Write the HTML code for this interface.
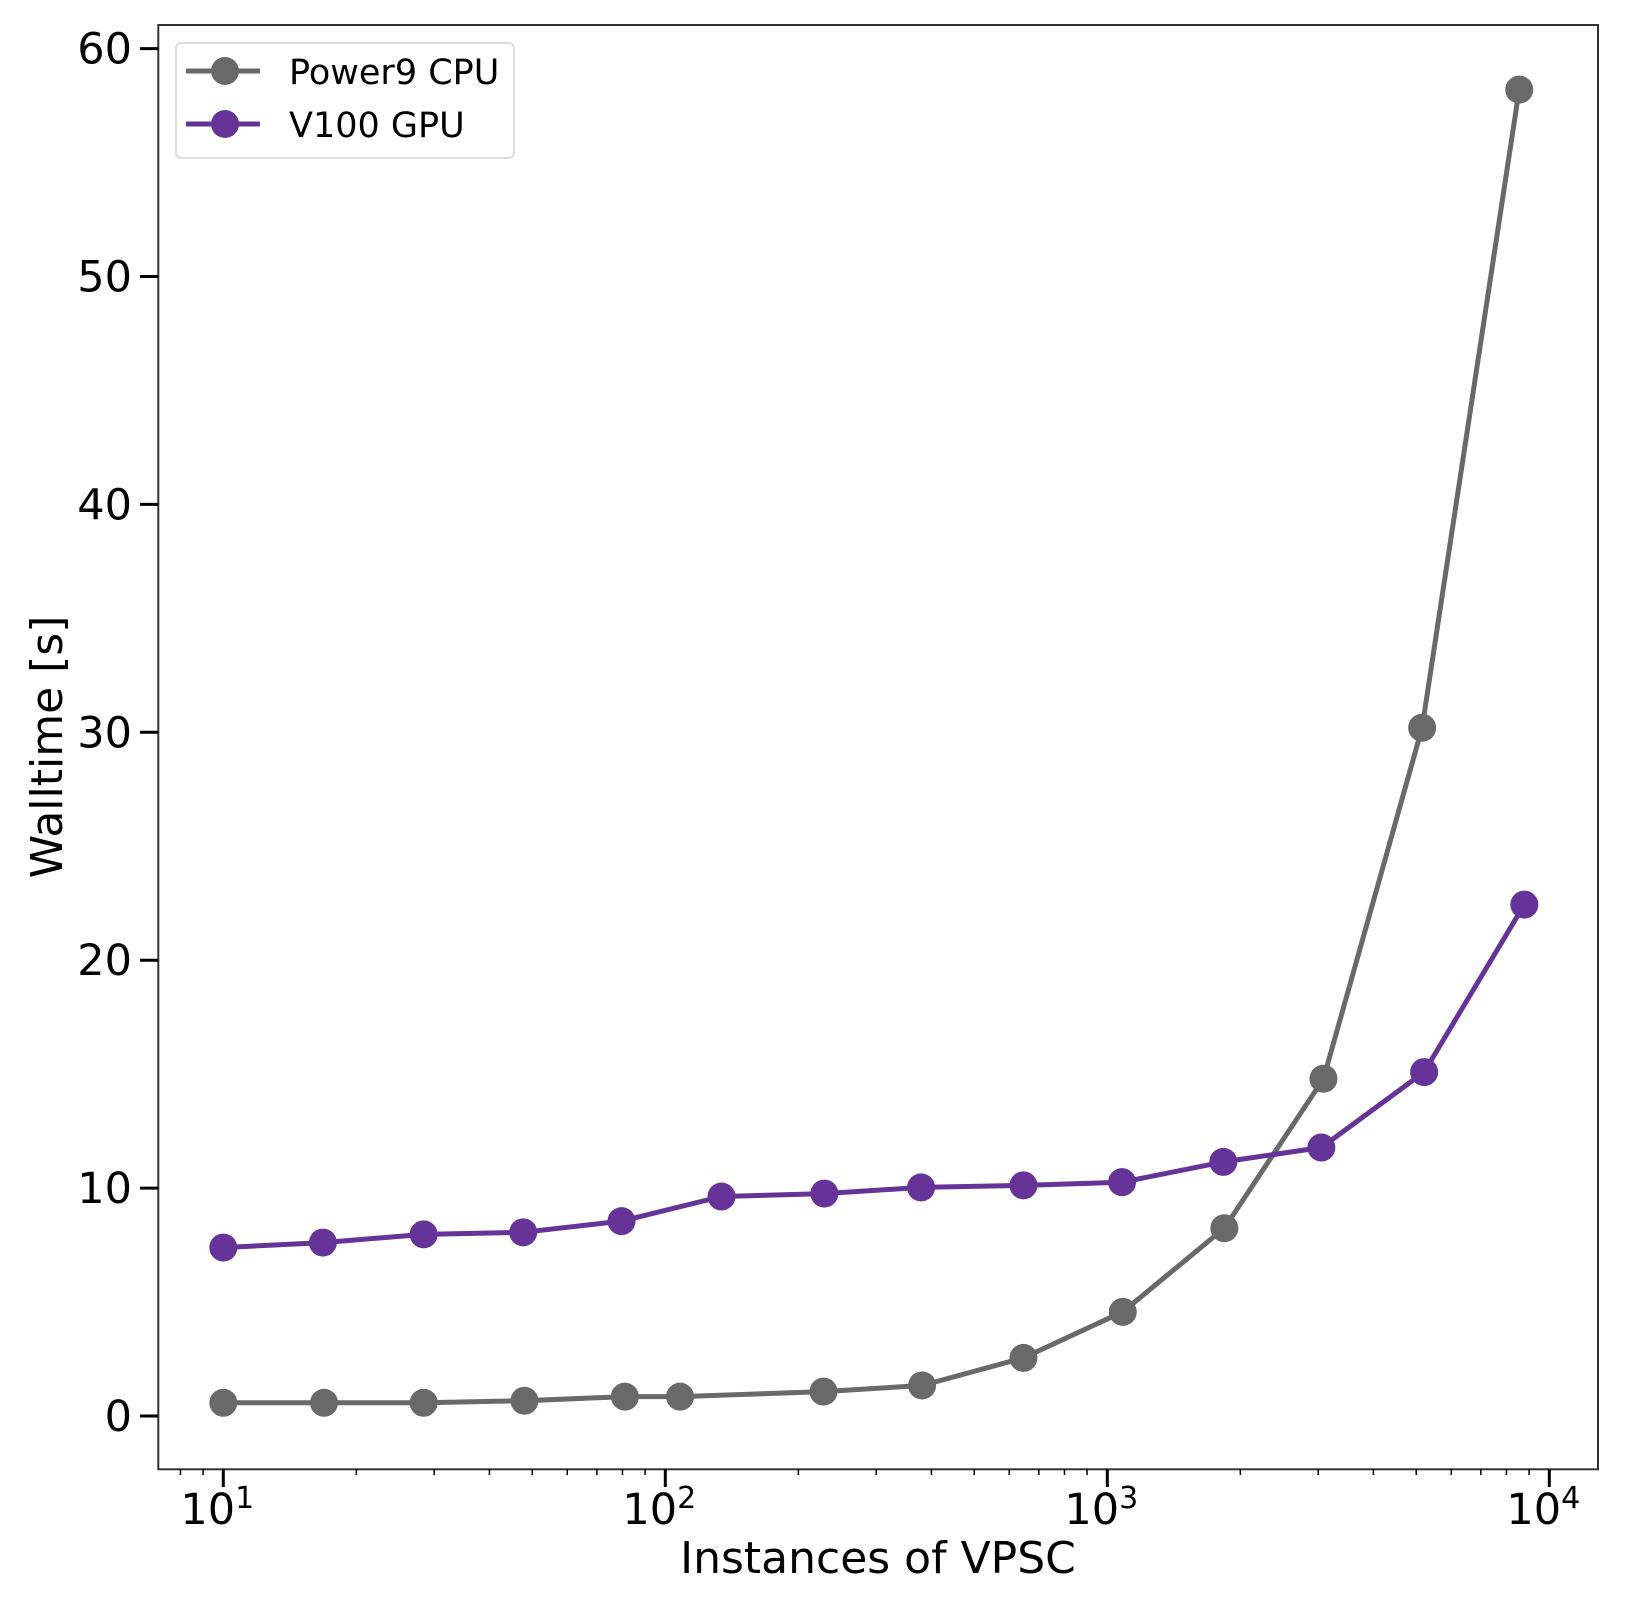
<!DOCTYPE html>
<html><head><meta charset="utf-8"><style>
html,body{margin:0;padding:0;background:#fff;}
svg{display:block;font-family:"DejaVu Sans","Liberation Sans",sans-serif;}
</style></head><body>
<svg id="chart" width="1625" height="1600" viewBox="0 0 1625 1600" xmlns="http://www.w3.org/2000/svg">
<rect x="0" y="0" width="1625" height="1600" fill="#fff"/>
<g id="grid"></g>
<g id="series"></g>
<rect x="158.3" y="25" width="1439.7" height="1444.3" fill="none" stroke="#333" stroke-width="2"/>
<g id="axes"></g>
<text x="878" y="1573" font-size="44" text-anchor="middle">Instances of VPSC</text>
<text transform="translate(62,747) rotate(-90)" font-size="44" text-anchor="middle">Walltime [s]</text>
<g>
<rect x="176" y="43" width="338" height="115" rx="5" fill="#fff" stroke="#ddd" stroke-width="2"/>
<g>
<line x1="186" y1="71" x2="260" y2="71" stroke="#696969" stroke-width="5"/>
<circle cx="225" cy="71" r="14" fill="#696969"/>
<text x="289" y="84" font-size="35">Power9 CPU</text>
</g>
<g>
<line x1="186" y1="124" x2="260" y2="124" stroke="#663399" stroke-width="5"/>
<circle cx="225" cy="124" r="14" fill="#663399"/>
<text x="289" y="137" font-size="35">V100 GPU</text>
</g>
</g>
</svg>
<script>
const cpuX = [10, 16.9, 28.4, 48, 81, 108, 228, 381, 646, 1084, 1840, 3084, 5156, 8550];
const cpuY = [0.58, 0.58, 0.58, 0.67, 0.85, 0.85, 1.07, 1.34, 2.55, 4.57, 8.24, 14.8, 30.2, 58.2];
const gpuX = [10, 16.8, 28.4, 47.7, 79.6, 134, 229, 379, 646, 1080, 1830, 3050, 5210, 8780];
const gpuY = [7.39, 7.61, 7.97, 8.06, 8.55, 9.63, 9.76, 10.03, 10.12, 10.26, 11.15, 11.78, 15.09, 22.44];
const yTicks = [0, 10, 20, 30, 40, 50, 60];
const xTickExps = [1, 2, 3, 4];

const NS = "http://www.w3.org/2000/svg";
function xs(v){ return 223.3 + (Math.log10(v) - 1) * 442; }
function ys(v){ return 1416 - v * 22.79; }
function mk(tag, attrs, parent){ const e = document.createElementNS(NS, tag); for (const k in attrs) e.setAttribute(k, attrs[k]); parent.appendChild(e); return e; }

const axes = document.getElementById('axes');
yTicks.forEach(t => {
  const y = ys(t);
  const l = mk('line', {x1:140, y1:y, x2:158.3, y2:y, stroke:'#000', 'stroke-width':3}, axes);
  
  
  const tx = mk('text', {x:132, y:y+15, 'font-size':43, 'text-anchor':'end'}, axes);
  tx.textContent = t;
  
  
});
for (let e = 0; e <= 4; e++) {
  for (let m = 2; m <= 9; m++) {
    const v = m * Math.pow(10, e);
    const x = xs(v);
    if (x < 158.3 || x > 1598) continue;
    const l = mk('line', {x1:x, y1:1469.3, x2:x, y2:1475, stroke:'#000', 'stroke-width':1.5}, axes);
    
    
  }
}
xTickExps.forEach(e => {
  const x = xs(Math.pow(10, e));
  const l = mk('line', {x1:x, y1:1469.3, x2:x, y2:1487, stroke:'#000', 'stroke-width':3}, axes);
  
  
  const tx = mk('text', {x:x-6, y:1524, 'font-size':43, 'text-anchor':'middle'}, axes);
  
  
  const base = mk('tspan', {}, tx); base.textContent = '10';
  const sup = mk('tspan', {dy:-16, 'font-size':30}, tx); sup.textContent = e;
});

const series = document.getElementById('series');
function drawSeries(X, Y, color, name){
  const g = mk('g', {}, series);
  
  
  const pts = X.map((x, i) => xs(x).toFixed(1) + ',' + ys(Y[i]).toFixed(1)).join(' ');
  const pl = mk('polyline', {points:pts, fill:'none', stroke:color, 'stroke-width':5, 'stroke-linejoin':'round'}, g);
  
  
  X.forEach((x, i) => {
    const c = mk('circle', {cx:xs(x), cy:ys(Y[i]), r:14, fill:color}, g);
    
    
  });
}
drawSeries(cpuX, cpuY, '#696969', 'cpu-series');
drawSeries(gpuX, gpuY, '#663399', 'gpu-series');
</script>
</body></html>
